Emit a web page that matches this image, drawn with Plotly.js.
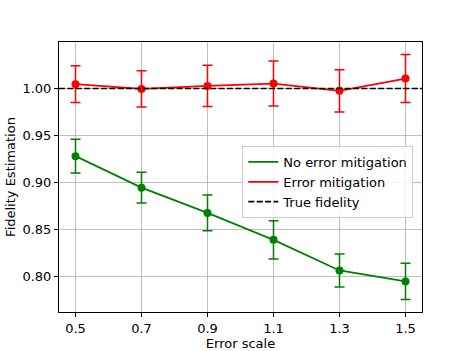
<!DOCTYPE html>
<html>
<head>
<meta charset="utf-8">
<script src="https://cdn.plot.ly/plotly-3.0.1.min.js"></script>
<style>
  body { margin: 0; }
  #plot { width: 469px; height: 351px; }
</style>
</head>
<body>
<div id="plot"></div>
<script>
// Error scales on the x axis
var errorScales = [0.5, 0.7, 0.9, 1.1, 1.3, 1.5];

// Fidelity without mitigation and its error bars
var noMitigation = [0.928, 0.8945, 0.8676, 0.839, 0.8064, 0.7947];
var noMitigationErr = [0.018, 0.0163, 0.019, 0.0203, 0.0175, 0.0193];

// Fidelity with mitigation and its error bars
var withMitigation = [1.0046, 0.9996, 1.0028, 1.0053, 0.9975, 1.0106];
var withMitigationErr = [0.0195, 0.0193, 0.022, 0.024, 0.0225, 0.0256];

var trueFidelity = 1.0;

var xRange = [0.45, 1.55];
var yRange = [0.7622, 1.0495];
var xTicks = [0.5, 0.7, 0.9, 1.1, 1.3, 1.5];
var yTicks = [0.80, 0.85, 0.90, 0.95, 1.00];

var green = "#008000";
var red = "#ff0000";

// data traces (legend shows lines only, like matplotlib)
function seriesTrace(y, err, color) {
  return {
    x: errorScales,
    y: y,
    mode: "lines+markers",
    line: {color: color, width: 1.8},
    marker: {color: color, size: 8},
    error_y: {type: "data", array: err, visible: true, color: color, thickness: 1.5, width: 5},
    showlegend: false,
    hoverinfo: "x+y"
  };
}

function legendTrace(name, color, dash) {
  return {
    x: [null],
    y: [null],
    name: name,
    mode: "lines",
    line: {color: color, width: 1.8, dash: dash || "solid"}
  };
}

var data = [
  seriesTrace(noMitigation, noMitigationErr, green),
  seriesTrace(withMitigation, withMitigationErr, red),
  // true fidelity line across the whole axis
  {
    x: xRange,
    y: [trueFidelity, trueFidelity],
    mode: "lines",
    line: {color: "black", width: 1.5, dash: "6px,2.4px"},
    showlegend: false,
    hoverinfo: "skip"
  },
  legendTrace("No error mitigation", green),
  legendTrace("Error mitigation", red),
  legendTrace("True fidelity", "black", "6px,2.4px")
];

var baseFont = {family: "DejaVu Sans", size: 13, color: "black"};

var axisStyle = {
  showline: true,
  linecolor: "black",
  linewidth: 1,
  mirror: true,
  ticks: "outside",
  ticklen: 4,
  tickwidth: 1,
  tickcolor: "black",
  tickfont: baseFont,
  showgrid: true,
  gridcolor: "#b0b0b0",
  gridwidth: 0.8,
  zeroline: false
};

var layout = {
  width: 469,
  height: 351,
  margin: {l: 59, r: 47, t: 42, b: 39},
  paper_bgcolor: "white",
  plot_bgcolor: "white",
  font: baseFont,
  xaxis: Object.assign({}, axisStyle, {
    range: xRange,
    tickvals: xTicks,
    tickformat: ".1f",
    title: {text: "Error scale", standoff: 3, font: baseFont}
  }),
  yaxis: Object.assign({}, axisStyle, {
    range: yRange,
    tickvals: yTicks,
    tickformat: ".2f",
    title: {text: "Fidelity Estimation", standoff: 3, font: baseFont}
  }),
  legend: {
    x: 0.505,
    y: 0.615,
    xanchor: "left",
    yanchor: "top",
    bgcolor: "rgba(255,255,255,0.8)",
    bordercolor: "#cccccc",
    borderwidth: 1,
    font: baseFont
  },
  showlegend: true
};

Plotly.newPlot("plot", data, layout, {displayModeBar: false, staticPlot: true});
</script>
</body>
</html>
